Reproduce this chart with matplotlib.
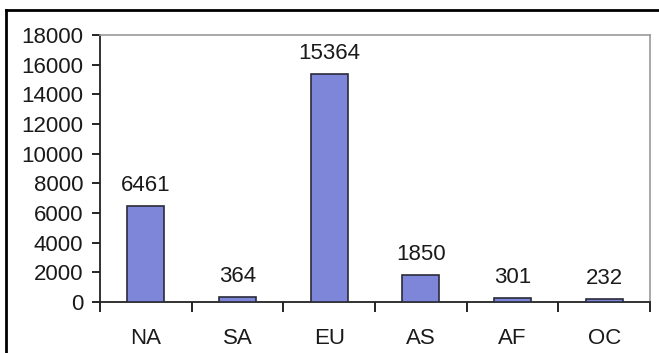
import matplotlib
matplotlib.use('Agg')
import matplotlib.pyplot as plt
from matplotlib.lines import Line2D
import numpy as np

# data
regions = ["NA", "SA", "EU", "AS", "AF", "OC"]
counts = [6461, 364, 15364, 1850, 301, 232]
yticks = [0, 2000, 4000, 6000, 8000, 10000, 12000, 14000, 16000, 18000]

plt.rcParams['font.family'] = ['Liberation Sans', 'DejaVu Sans']

W, H = 659, 353
fig = plt.figure(figsize=(W / 100, H / 100), dpi=100)
ax = fig.add_axes([100 / W, 1 - 302 / H, 550 / W, 267 / H])

x = np.arange(len(regions))
ax.bar(x, counts, width=0.4, color='#7d86d8', edgecolor='#2b2b3a', linewidth=1.2, zorder=3)

for xi, v in zip(x, counts):
    ax.annotate(str(v), (xi, v), xytext=(0, 7), textcoords='offset points',
                ha='center', va='bottom', fontsize=16, color='#1a1a1a')

ax.set_xlim(-0.5, len(regions) - 0.5)
ax.set_ylim(0, 18000)
ax.set_yticks(yticks)
ax.set_yticklabels([str(t) for t in yticks])
ax.set_xticks(x)
ax.set_xticklabels(regions)
ax.set_xticks(np.arange(-0.5, len(regions)), minor=True)

ax.tick_params(axis='y', length=6, width=1.2, pad=6, labelsize=16, labelcolor='#1a1a1a')
ax.tick_params(axis='x', which='major', length=0, pad=19, labelsize=16, labelcolor='#1a1a1a')
ax.tick_params(axis='x', which='minor', length=7, width=1.2, direction='out')

for side in ['left', 'bottom']:
    ax.spines[side].set_color('#222222')
    ax.spines[side].set_linewidth(1.3)
for side in ['top', 'right']:
    ax.spines[side].set_color('#9a9a9a')
    ax.spines[side].set_linewidth(1.2)

# outer frame of the picture
fig.add_artist(Line2D([6 / W, 1.0], [1 - 10 / H, 1 - 10 / H], color='black', lw=2,
                      transform=fig.transFigure))
fig.add_artist(Line2D([6 / W, 6 / W], [0.0, 1 - 10 / H], color='black', lw=2,
                      transform=fig.transFigure))

fig.savefig('out.png', dpi=100)
